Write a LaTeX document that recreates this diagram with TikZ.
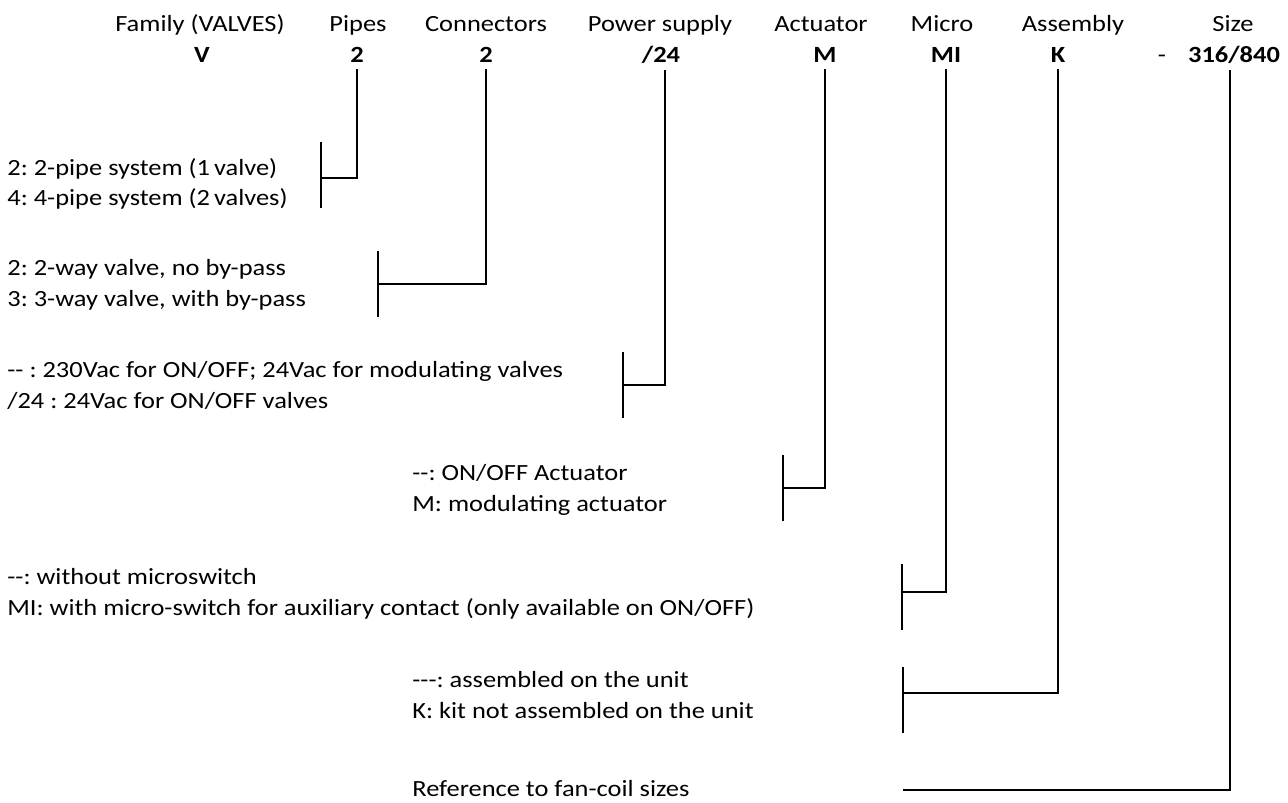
\documentclass[tikz,border=0pt]{standalone}
\usepackage{fontspec}
\setmainfont{Carlito}[FakeStretch=1.14,Ligatures=TeXOff]
\frenchspacing
\begin{document}
\begin{tikzpicture}[x=0.02cm,y=-0.02cm,font=\fontsize{13.2}{15}\selectfont,
    head/.style={inner sep=0pt,anchor=base},
    code/.style={inner sep=0pt,anchor=base,font=\fontsize{13.2}{15}\selectfont\bfseries},
    desc/.style={inner sep=0pt,anchor=base west},
    lead/.style={line width=1.4pt}]
    \useasboundingbox (0,0) rectangle (1288,803);
    % header row
    \node[head] (hfam) at (200,32) {Family (VALVES)};
    \node[head] (hpipes) at (358,32) {Pipes};
    \node[head] (hconn) at (486,32) {Connectors};
    \node[head] (hpower) at (660,32) {Power supply};
    \node[head] (hact) at (821,32) {Actuator};
    \node[head] (hmicro) at (942,32) {Micro};
    \node[head] (hass) at (1073,32) {Assembly};
    \node[head] (hsize) at (1233,32) {Size};
    % code row
    \node[code] (cfam) at (202,63) {V};
    \node[code] (cpipes) at (357,63) {2};
    \node[code] (cconn) at (486,63) {2};
    \node[code] (cpower) at (661,63) {/24};
    \node[code] (cact) at (825,63) {M};
    \node[code] (cmicro) at (946,63) {MI};
    \node[code] (cass) at (1058,63) {K};
    \node[head] (cdash) at (1162,63) {-};
    \node[code] (csize) at (1234,63) {316/840};
    % descriptions
    \node[desc] (dpipesa) at (7,176) {2: 2-pipe system (1\,valve)};
    \node[desc] (dpipesb) at (7,206) {4: 4-pipe system (2\,valves)};
    \node[desc] (dconna) at (7,276) {2: 2-way valve, no by-pass};
    \node[desc] (dconnb) at (7,307) {3: 3-way valve, with by-pass};
    \node[desc] (dpowera) at (7,378) {-- : 230Vac for ON/OFF; 24Vac for modulating valves};
    \node[desc] (dpowerb) at (7,409) {/24 : 24Vac for ON/OFF valves};
    \node[desc] (dacta) at (412,481) {--: ON/OFF Actuator};
    \node[desc] (dactb) at (412,512) {M: modulating actuator};
    \node[desc] (dmicroa) at (7,584) {--: without microswitch};
    \node[desc] (dmicrob) at (7,615) {MI: with micro-switch for auxiliary contact (only available on ON/OFF)};
    \node[desc] (dassa) at (412,687) {---: assembled on the unit};
    \node[desc] (dassb) at (412,718) {K: kit not assembled on the unit};
    \node[desc] (dsize) at (412,796) {Reference to fan-coil sizes};
    % bracket joints
    \coordinate (kpipes) at (321,178);
    \coordinate (kconn) at (378,284);
    \coordinate (kpower) at (623,385);
    \coordinate (kact) at (783,488);
    \coordinate (kmicro) at (902,592);
    \coordinate (kass) at (903,693);
    \coordinate (ksize) at (903,790);
    % leaders
    \draw[lead] (cpipes.south) ++(0,6) |- (kpipes);
    \draw[lead] (cconn.south) ++(0,6) |- (kconn);
    \draw[lead] (cpower.south -| 665,0) ++(0,6) |- (kpower);
    \draw[lead] (cact.south) ++(0,6) |- (kact);
    \draw[lead] (cmicro.south) ++(0,6) |- (kmicro);
    \draw[lead] (cass.south) ++(0,6) |- (kass);
    \draw[lead] (csize.south -| 1230,0) ++(0,6) |- (ksize);
    % brackets
    \draw[lead] (kpipes) ++(0,-36) -- ++(0,66);
    \draw[lead] (kconn) ++(0,-33) -- ++(0,66);
    \draw[lead] (kpower) ++(0,-33) -- ++(0,66);
    \draw[lead] (kact) ++(0,-33) -- ++(0,66);
    \draw[lead] (kmicro) ++(0,-28) -- ++(0,66);
    \draw[lead] (kass) ++(0,-26) -- ++(0,66);
\end{tikzpicture}
\end{document}
